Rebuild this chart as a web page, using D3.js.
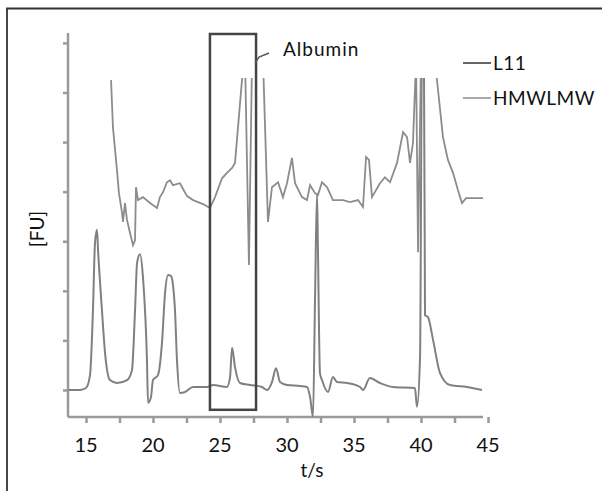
<!DOCTYPE html>
<html>
<head>
<meta charset="utf-8">
<script src="https://cdn.jsdelivr.net/npm/d3@7"></script>
<style>
  body { margin: 0; background: #fff; }
  text { font-family: Lato, "Open Sans", sans-serif; fill: #111; }
</style>
</head>
<body>
<div id="chart"></div>
<script>
// time axis (s) and the two traces, values in FU
var xTicks = [15, 20, 25, 30, 35, 40, 45];
var seriesNames = ["L11", "HMWLMW"];

var l11T = [13.6,14.55,15.0,15.3,15.52,15.67,15.82,15.9,16.19,16.42,16.79,17.31,18.06,18.43,18.66,18.81,19.03,19.25,19.55,19.63,19.85,20.0,20.37,20.67,20.9,21.12,21.34,21.49,21.64,21.79,22.01,22.39,22.99,24.03,24.48,25.52,25.75,25.9,26.12,26.49,27.24,28.13,28.51,28.88,29.18,29.48,30.0,30.97,31.49,31.72,31.94,32.09,32.24,32.31,32.46,32.61,33.06,33.43,33.73,34.48,35.45,35.67,36.19,36.94,37.91,39.55,39.7,39.93,40.07,40.22,40.3,40.52,40.9,41.42,42.16,43.43,44.55];
var l11V = [0,0,0.04,0.30,1.61,2.96,3.23,2.82,1.61,0.75,0.20,0.14,0.20,0.40,1.61,2.56,2.74,2.28,0.60,-0.26,-0.14,0.20,0.30,0.95,1.96,2.32,2.30,2.12,1.61,0.60,-0.06,-0.04,0.06,0.06,0.10,0.06,0.26,0.85,0.46,0.14,0.10,0.06,0,0.16,0.44,0.16,0.10,0.08,0.06,-0.14,-0.54,1.81,3.97,2.82,0.34,0.20,-0.04,0.26,0.16,0.14,0.06,0,0.24,0.14,0.06,0.04,-0.34,0.67,6.65,6.65,1.51,1.47,1.01,0.34,0.10,0.06,0];

var hmwT = [16.87,17.01,17.31,17.46,17.69,17.76,17.91,18.06,18.28,18.51,18.66,18.73,18.88,19.25,19.78,20.30,20.52,20.75,21.04,21.27,21.49,22.01,22.54,22.99,23.73,24.25,24.63,25.15,25.52,25.90,26.12,26.64,26.87,27.16,27.39,28.21,28.58,28.88,29.33,29.70,30.0,30.37,30.60,31.12,31.49,31.72,32.09,32.31,32.61,32.99,33.43,34.18,34.70,35.30,35.67,35.90,36.12,36.34,36.94,37.31,37.69,38.21,38.66,38.96,39.18,39.40,39.63,39.78,40.0,41.04,41.27,41.64,42.01,42.39,42.76,43.06,43.36,44.63];
var hmwV = [6.25,5.30,4.44,3.97,3.57,3.39,3.77,3.43,3.17,2.92,3.02,4.09,3.83,3.89,3.77,3.67,3.89,3.99,4.19,4.23,4.13,4.17,3.91,3.83,3.75,3.67,3.89,4.27,4.38,4.48,4.58,6.25,6.65,2.52,6.65,6.65,3.39,4.09,4.19,3.89,4.17,4.68,4.17,3.89,3.83,4.13,3.97,3.93,4.19,4.09,3.83,3.83,3.79,3.83,3.69,4.70,4.64,3.89,4.17,4.29,4.19,4.58,5.20,5.10,4.58,4.98,6.65,2.78,6.65,6.65,6.05,5.10,4.64,4.38,4.03,3.77,3.87,3.87];

// albumin window
var boxT = [24.25, 27.69];
var boxV = [-0.40, 7.18];

var W = 602, H = 491;
var svg = d3.select("#chart").append("svg").attr("width", W).attr("height", H);

// frame
svg.append("path").attr("d", "M7,491 V8.5 H602")
   .style("fill", "none").style("stroke", "#333").style("stroke-width", 1.8);

var x = d3.scaleLinear().domain([15, 45]).range([86, 488]);
var y = d3.scaleLinear().domain([-0.545, 7.2]).range([417, 33]);

var x0 = 68, x1 = 483;

// clip of the plot area (spikes go off scale at the top)
svg.append("clipPath").attr("id", "plotclip")
   .append("rect").attr("x", x0).attr("y", y(6.29))
   .attr("width", x1 - x0).attr("height", y(-0.545) - y(6.29));

// axes
var xAxis = d3.axisBottom(x).tickValues(d3.range(12.5, 46, 2.5).filter(function(d){ return x(d) >= x0 - 1 && x(d) <= x1 + 6; }))
    .tickSize(6).tickFormat("");
var gx = svg.append("g").attr("transform", "translate(0," + y(-0.545) + ")").call(xAxis);
gx.select(".domain").attr("d", "M" + x0 + ",0H" + x1);
gx.selectAll("line,path").style("stroke", "#9a9a9a").style("stroke-width", 2.5);

svg.append("g").selectAll("text").data(xTicks).join("text")
   .attr("x", function(d){ return x(d); }).attr("y", 452)
   .attr("text-anchor", "middle").style("font-size", "20px")
   .text(function(d){ return d; });

var yAxis = d3.axisLeft(y).tickValues(d3.range(0, 8, 1)).tickSize(5).tickFormat("");
var gy = svg.append("g").attr("transform", "translate(" + x0 + ",0)").call(yAxis);
gy.select(".domain").attr("d", "M0," + y(-0.545) + "V" + y(7.2));
gy.selectAll("line,path").style("stroke", "#9a9a9a").style("stroke-width", 2.5);

svg.append("text").attr("x", 312).attr("y", 477).attr("text-anchor", "middle")
   .style("font-size", "19px").text("t/s");
svg.append("text").attr("transform", "translate(44,229) rotate(-90)")
   .attr("text-anchor", "middle").style("font-size", "19px").text("[FU]");

// traces
var line = d3.line().x(function(d){ return x(d[0]); }).y(function(d){ return y(d[1]); });
var smooth = d3.line().curve(d3.curveMonotoneX).x(function(d){ return x(d[0]); }).y(function(d){ return y(d[1]); });
var plot = svg.append("g").attr("clip-path", "url(#plotclip)");
plot.append("path").datum(d3.zip(l11T, l11V)).attr("d", smooth)
    .style("fill", "none").style("stroke", "#808080").style("stroke-width", 2);
plot.append("path").datum(d3.zip(hmwT, hmwV)).attr("d", line)
    .style("fill", "none").style("stroke", "#8c8c8c").style("stroke-width", 1.8);

// box around albumin
svg.append("rect").attr("x", x(boxT[0])).attr("y", y(boxV[1]))
   .attr("width", x(boxT[1]) - x(boxT[0])).attr("height", y(boxV[0]) - y(boxV[1]))
   .style("fill", "none").style("stroke", "#444").style("stroke-width", 2.5);

svg.append("path").attr("d", "M" + (x(boxT[1]) - 1) + "," + (y(boxV[1]) + 29) + " l4,-6 l10,-4")
   .style("fill", "none").style("stroke", "#555").style("stroke-width", 1.5);
svg.append("text").attr("x", 283).attr("y", 56).style("font-size", "19px")
   .style("letter-spacing", "1px").text("Albumin");

// legend
var legColors = ["#666", "#aaa"];
var leg = svg.append("g").selectAll("g").data(seriesNames).join("g")
   .attr("transform", function(d, i){ return "translate(463," + (63 + i * 35) + ")"; });
leg.append("line").attr("x1", 0).attr("x2", 28)
   .style("stroke", function(d, i){ return legColors[i]; }).style("stroke-width", 2);
leg.append("text").attr("x", 30).attr("y", 7).style("font-size", "19px")
   .style("letter-spacing", "0.5px")
   .text(function(d){ return d; });
</script>
</body>
</html>
